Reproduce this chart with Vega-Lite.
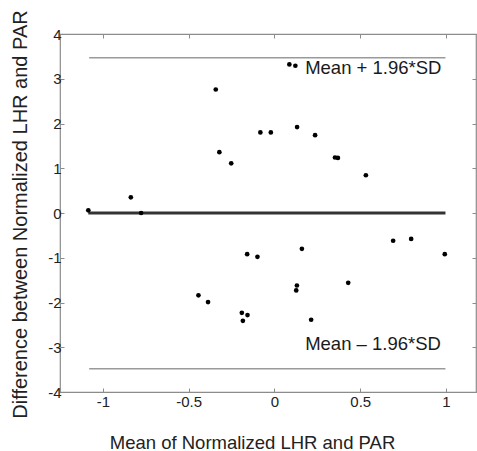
{
  "$schema": "https://vega.github.io/schema/vega-lite/v6.json",
  "width": 416,
  "height": 358,
  "autosize": {"type": "none"},
  "padding": {"left": 60, "top": 34, "right": 1, "bottom": 59},
  "config": {
    "view": {"stroke": "#8c8c8c", "strokeWidth": 1.2},
    "font": "Liberation Sans",
    "axis": {
      "grid": false,
      "domain": false,
      "tickColor": "#8c8c8c",
      "tickSize": -4,
      "tickWidth": 1,
      "labelFont": "Liberation Sans",
      "labelFontSize": 15,
      "labelColor": "#222222",
      "titleFont": "Liberation Sans",
      "titleColor": "#222222",
      "titleFontWeight": "normal"
    }
  },
  "datasets": {
    "points": [
      {"mean": -1.085, "diff": 0.06},
      {"mean": -0.837, "diff": 0.35},
      {"mean": -0.777, "diff": 0.0},
      {"mean": -0.443, "diff": -1.84},
      {"mean": -0.387, "diff": -1.99},
      {"mean": -0.342, "diff": 2.76},
      {"mean": -0.321, "diff": 1.36},
      {"mean": -0.252, "diff": 1.11},
      {"mean": -0.19, "diff": -2.23},
      {"mean": -0.184, "diff": -2.41},
      {"mean": -0.157, "diff": -2.28},
      {"mean": -0.159, "diff": -0.92},
      {"mean": -0.099, "diff": -0.98},
      {"mean": -0.082, "diff": 1.8},
      {"mean": -0.021, "diff": 1.8},
      {"mean": 0.087, "diff": 3.32},
      {"mean": 0.122, "diff": 3.29},
      {"mean": 0.132, "diff": 1.92},
      {"mean": 0.131, "diff": -1.62},
      {"mean": 0.127, "diff": -1.73},
      {"mean": 0.16, "diff": -0.8},
      {"mean": 0.214, "diff": -2.385},
      {"mean": 0.237, "diff": 1.74},
      {"mean": 0.353, "diff": 1.24},
      {"mean": 0.37, "diff": 1.23},
      {"mean": 0.533, "diff": 0.843},
      {"mean": 0.43, "diff": -1.56},
      {"mean": 0.692, "diff": -0.62},
      {"mean": 0.797, "diff": -0.58},
      {"mean": 0.993, "diff": -0.92}
    ],
    "lines": [
      {"x": -1.085, "x2": 0.997, "y": 0, "kind": "mean"},
      {"x": -1.08, "x2": 0.997, "y": 3.47, "kind": "limit"},
      {"x": -1.08, "x2": 0.997, "y": -3.48, "kind": "limit"}
    ],
    "labels": [
      {"x": 0.179, "y": 3.24, "label": "Mean + 1.96*SD"},
      {"x": 0.179, "y": -2.92, "label": "Mean – 1.96*SD"}
    ]
  },
  "layer": [
    {
      "data": {"name": "lines"},
      "mark": {"type": "rule"},
      "encoding": {
        "x": {"field": "x", "type": "quantitative", "scale": {"domain": [-1.25, 1.175], "nice": false, "zero": false}, "axis": null},
        "x2": {"field": "x2"},
        "y": {"field": "y", "type": "quantitative", "scale": {"domain": [-4, 4], "nice": false}, "axis": null},
        "color": {"field": "kind", "type": "nominal", "scale": {"domain": ["mean", "limit"], "range": ["#333333", "#9a9a9a"]}, "legend": null},
        "strokeWidth": {"field": "kind", "type": "nominal", "scale": {"domain": ["mean", "limit"], "range": [3, 1.5]}, "legend": null}
      }
    },
    {
      "data": {"name": "points"},
      "mark": {"type": "circle", "size": 22, "color": "#000000", "opacity": 1},
      "encoding": {
        "x": {
          "field": "mean", "type": "quantitative",
          "scale": {"domain": [-1.25, 1.175], "nice": false, "zero": false},
          "axis": {
            "orient": "bottom",
            "values": [-1, -0.5, 0, 0.5, 1],
            "labelExpr": "'' + datum.value",
            "labelPadding": 6,
            "title": "Mean of Normalized LHR and PAR",
            "titleFontSize": 18.5,
            "titleX": 192,
            "titleY": 56,
            "titleBaseline": "alphabetic",
            "titleAlign": "center"
          }
        },
        "y": {
          "field": "diff", "type": "quantitative",
          "scale": {"domain": [-4, 4], "nice": false},
          "axis": {
            "orient": "left",
            "values": [-4, -3, -2, -1, 0, 1, 2, 3, 4],
            "labelExpr": "'' + datum.value",
            "labelPadding": 3,
            "title": "Difference between Normalized LHR and PAR",
            "titleFontSize": 20,
            "titleX": -34,
            "titleY": 180,
            "titleAngle": -90,
            "titleBaseline": "alphabetic",
            "titleAlign": "center"
          }
        }
      }
    },
    {
      "data": {"name": "labels"},
      "mark": {"type": "text", "align": "left", "baseline": "middle", "fontSize": 18.5, "font": "Liberation Sans", "color": "#1a1a1a"},
      "encoding": {
        "x": {"field": "x", "type": "quantitative", "axis": null},
        "y": {"field": "y", "type": "quantitative", "axis": null},
        "text": {"field": "label"}
      }
    },
    {
      "data": {"name": "points"},
      "mark": {"type": "point", "opacity": 0},
      "encoding": {
        "x": {"field": "mean", "type": "quantitative", "axis": {"orient": "top", "values": [-1, -0.5, 0, 0.5, 1], "labels": false, "title": null}},
        "y": {"field": "diff", "type": "quantitative", "axis": {"orient": "right", "values": [-4, -3, -2, -1, 0, 1, 2, 3, 4], "labels": false, "title": null}}
      }
    }
  ],
  "resolve": {"axis": {"x": "independent", "y": "independent"}}
}
